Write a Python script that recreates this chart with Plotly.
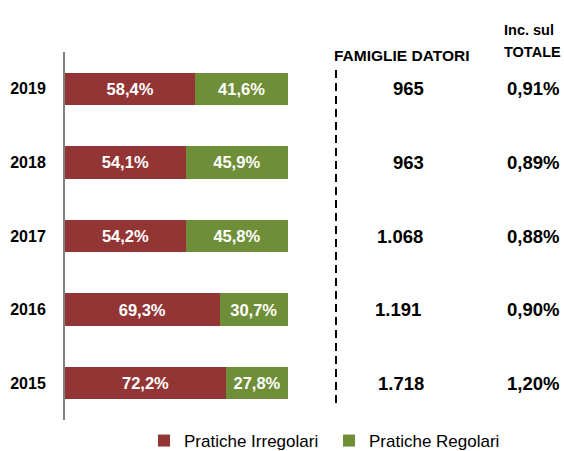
import plotly.graph_objects as go

years = ["2015", "2016", "2017", "2018", "2019"]
irregolari = [72.2, 69.3, 54.2, 54.1, 58.4]
regolari = [27.8, 30.7, 45.8, 45.9, 41.6]
famiglie = [1718, 1191, 1068, 963, 965]
incidenza = [1.20, 0.90, 0.88, 0.89, 0.91]

FONT = "Arial, Liberation Sans, sans-serif"

def pct(v):
    return f"{v:.1f}%".replace(".", ",")

def thousands(v):
    return f"{v:,}".replace(",", ".")

def inc(v):
    return f"{v:.2f}%".replace(".", ",")

fig = go.Figure()
fig.add_trace(go.Bar(
    y=years, x=irregolari, orientation="h", name="Pratiche Irregolari",
    marker=dict(color="#943535", line=dict(width=0)),
    text=[pct(v) for v in irregolari], textposition="inside", insidetextanchor="middle",
    textfont=dict(color="white", size=16.5, family=FONT, weight="bold"),
))
fig.add_trace(go.Bar(
    y=years, x=regolari, orientation="h", name="Pratiche Regolari",
    marker=dict(color="#6e8e38", line=dict(width=0)),
    text=[pct(v) for v in regolari], textposition="inside", insidetextanchor="middle",
    textfont=dict(color="white", size=16.5, family=FONT, weight="bold"),
))

def px2paper(px):
    return (px - 65) / 223.0

fam_x = [401, 398, 400, 408, 408]
for idx, (f, i, fx) in enumerate(zip(famiglie, incidenza, fam_x)):
    fig.add_annotation(x=px2paper(fx), y=idx, xref="paper", yref="y", text=thousands(f),
                       xanchor="center", showarrow=False,
                       font=dict(size=18.5, family=FONT, color="black", weight="bold"))
    fig.add_annotation(x=px2paper(533), y=idx, xref="paper", yref="y", text=inc(i),
                       xanchor="center", showarrow=False,
                       font=dict(size=18.5, family=FONT, color="black", weight="bold"))

fig.add_annotation(x=px2paper(401), y=(420 - 45) / 368, xref="paper", yref="paper",
                   text="FAMIGLIE DATORI", showarrow=False, xanchor="center",
                   font=dict(size=15.5, family=FONT, color="black", weight="bold"))
fig.add_annotation(x=px2paper(529), y=(420 - 20) / 368, xref="paper", yref="paper",
                   text="Inc. sul", showarrow=False, xanchor="center",
                   font=dict(size=14.5, family=FONT, color="black", weight="bold"))
fig.add_annotation(x=px2paper(532), y=(420 - 42) / 368, xref="paper", yref="paper",
                   text="TOTALE", showarrow=False, xanchor="center",
                   font=dict(size=14.5, family=FONT, color="black", weight="bold"))

fig.add_shape(type="line", xref="paper", yref="paper",
              x0=px2paper(336), x1=px2paper(336), y0=(420 - 403) / 368, y1=(420 - 68) / 368,
              line=dict(color="black", width=2, dash="8px,5px"))

fig.update_layout(
    width=564, height=451,
    margin=dict(l=65, r=276, t=52, b=31, autoexpand=False),
    barmode="stack", bargap=0.56,
    plot_bgcolor="white", paper_bgcolor="white",
    showlegend=True,
    legend=dict(orientation="h", x=px2paper(514), xanchor="right",
                y=(420 - 441) / 368, yanchor="middle",
                font=dict(size=17, family=FONT, color="black"),
                entrywidth=140, entrywidthmode="pixels",
                bgcolor="rgba(0,0,0,0)", traceorder="normal"),
    xaxis=dict(range=[0, 100], visible=False, fixedrange=True),
    yaxis=dict(categoryorder="array", categoryarray=years, showline=True,
               linecolor="#808080", linewidth=2, ticks="", showgrid=False,
               tickfont=dict(size=16, family=FONT, color="black", weight="bold"),
               ticklabelstandoff=14, range=[-0.5, 4.5]),
    font=dict(family=FONT),
)

fig.write_html("out.html", config={"displayModeBar": False},
               post_script="document.body.style.margin='0';")
